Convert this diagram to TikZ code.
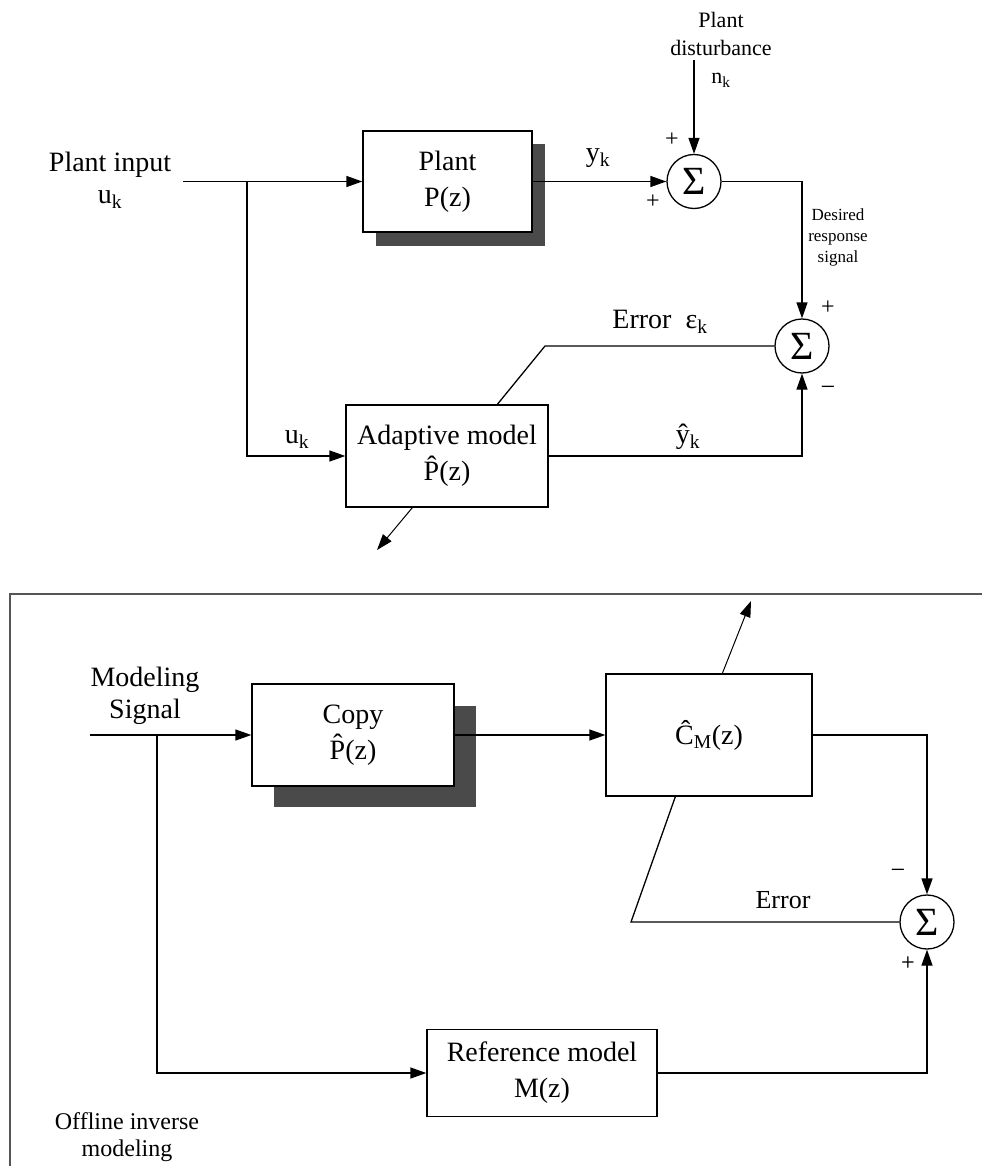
\documentclass[tikz,border=0pt]{standalone}
\usepackage{fontspec}
\setmainfont{Liberation Serif}
\usetikzlibrary{arrows.meta,calc}
\newcommand\fsz[2]{\fontsize{#1}{#2}\selectfont}
\definecolor{shadowc}{HTML}{4A4A4A}
\definecolor{framec}{HTML}{555555}
\begin{document}
\begin{tikzpicture}[x=1pt,y=-1pt,line width=1.3pt,
  blk/.style={draw,fill=white,inner sep=0pt,align=center,font=\fsz{28}{36}},
  sumnode/.style={circle,draw,fill=white,minimum size=54pt,inner sep=0pt,font=\fsz{40}{40}},
  lbl/.style={inner sep=0pt,align=center},
  arr/.style={-{Triangle[length=16pt,width=11pt]}}]
\useasboundingbox (0,0) rectangle (982,1166);

% ---------- top part ----------
\fill[shadowc] (376,144) rectangle (545,246);
\node[blk,minimum width=169pt,minimum height=101pt] (plant) at (447.5,181.5) {Plant\\P(z)};
\node[blk,minimum width=202pt,minimum height=102pt] (adapt) at (447,456) {Adaptive model\\\^{P}(z)};
\node[sumnode] (s1) at (694,181.5) {Σ};
\node[sumnode] (s2) at (802,346) {Σ};

\node[lbl,font=\fsz{28}{32}] (pin) at (110,180) {Plant input\\u\textsubscript{k}};
\node[lbl,font=\fsz{22}{28}] (pdist) at (721,50) {Plant\\disturbance\\n\textsubscript{k}};
\node[lbl,font=\fsz{17}{21}] (desired) at (838,237) {Desired\\response\\signal};
\node[lbl,font=\fsz{24}{24}] (p1) at (672,140) {+};
\node[lbl,font=\fsz{24}{24}] (p2) at (653,202) {+};
\node[lbl,font=\fsz{24}{24}] (p3) at (828,308) {+};
\node[lbl,font=\fsz{26}{26}] (m1) at (828,391) {\textminus};
\node[lbl,font=\fsz{28}{28}] (yk) at (598,158) {y\textsubscript{k}};
\node[lbl,font=\fsz{28}{28}] (err1) at (660,322) {Error\ \ ε\textsubscript{k}};
\node[lbl,font=\fsz{28}{28}] (uk2) at (297,440) {u\textsubscript{k}};
\node[lbl,font=\fsz{28}{28}] (yhat) at (688,437) {ŷ\textsubscript{k}};

\coordinate (in1) at (183,181.5);
\coordinate (br1) at (247,181.5);
\coordinate (dtop) at (694,60);
\coordinate (e1) at (545,346);
\coordinate (a1) at ($(adapt.north west)+(152,0)$);
\coordinate (a2) at ($(adapt.south west)+(67,0)$);
\coordinate (a3) at (377,550);

\draw[arr] (in1) -- (plant.west);
\draw[arr] (br1) |- (adapt.west);
\draw[arr] (plant.east) -- (s1.west);
\draw[arr] (dtop) -- (s1.north);
\draw[arr] (s1.east) -| (s2.north);
\draw[arr] (adapt.east) -| (s2.south);
\draw (s2.west) -- (e1) -- (a1);
\draw[arr,line width=1pt] (a2) -- (a3);

% ---------- bottom part ----------
\draw[framec,line width=1.3pt] (982,594) -- (10,594) -- (10,1166);

\fill[shadowc] (274,706) rectangle (476,807);
\node[blk,minimum width=202pt,minimum height=102pt] (copy) at (353,735) {Copy\\\^{P}(z)};
\node[blk,minimum width=206pt,minimum height=122pt] (cm) at (709,735) {Ĉ\textsubscript{M}(z)};
\node[blk,minimum width=230pt,minimum height=87pt] (ref) at (542,1073) {Reference model\\M(z)};
\node[sumnode] (s3) at (927,922) {Σ};

\node[lbl,font=\fsz{28}{32}] (msig) at (145,696) {Modeling\\Signal};
\node[lbl,font=\fsz{26}{26}] (m2) at (898,874) {\textminus};
\node[lbl,font=\fsz{26}{26}] (err2) at (783,900) {Error};
\node[lbl,font=\bfseries\sffamily\fsz{16}{16}] (p4) at (908,962) {+};
\node[lbl,font=\fsz{24}{27}] (offl) at (127,1137) {Offline inverse\\modeling};

\coordinate (in2) at (90,735);
\coordinate (br2) at (157,735);
\coordinate (c1) at ($(cm.north west)+(117,0)$);
\coordinate (c2) at (751,601);
\coordinate (e2) at (631,922);
\coordinate (c3) at ($(cm.south west)+(70,0)$);

\draw[arr] (in2) -- (copy.west);
\draw[arr] (br2) |- (ref.west);
\draw[arr] (copy.east) -- (cm.west);
\draw[arr,line width=1pt] (c1) -- (c2);
\draw[arr,line width=1.6pt] (cm.east) -| (s3.north);
\draw (s3.west) -- (e2) -- (c3);
\draw[arr] (ref.east) -| (s3.south);
\end{tikzpicture}
\end{document}
